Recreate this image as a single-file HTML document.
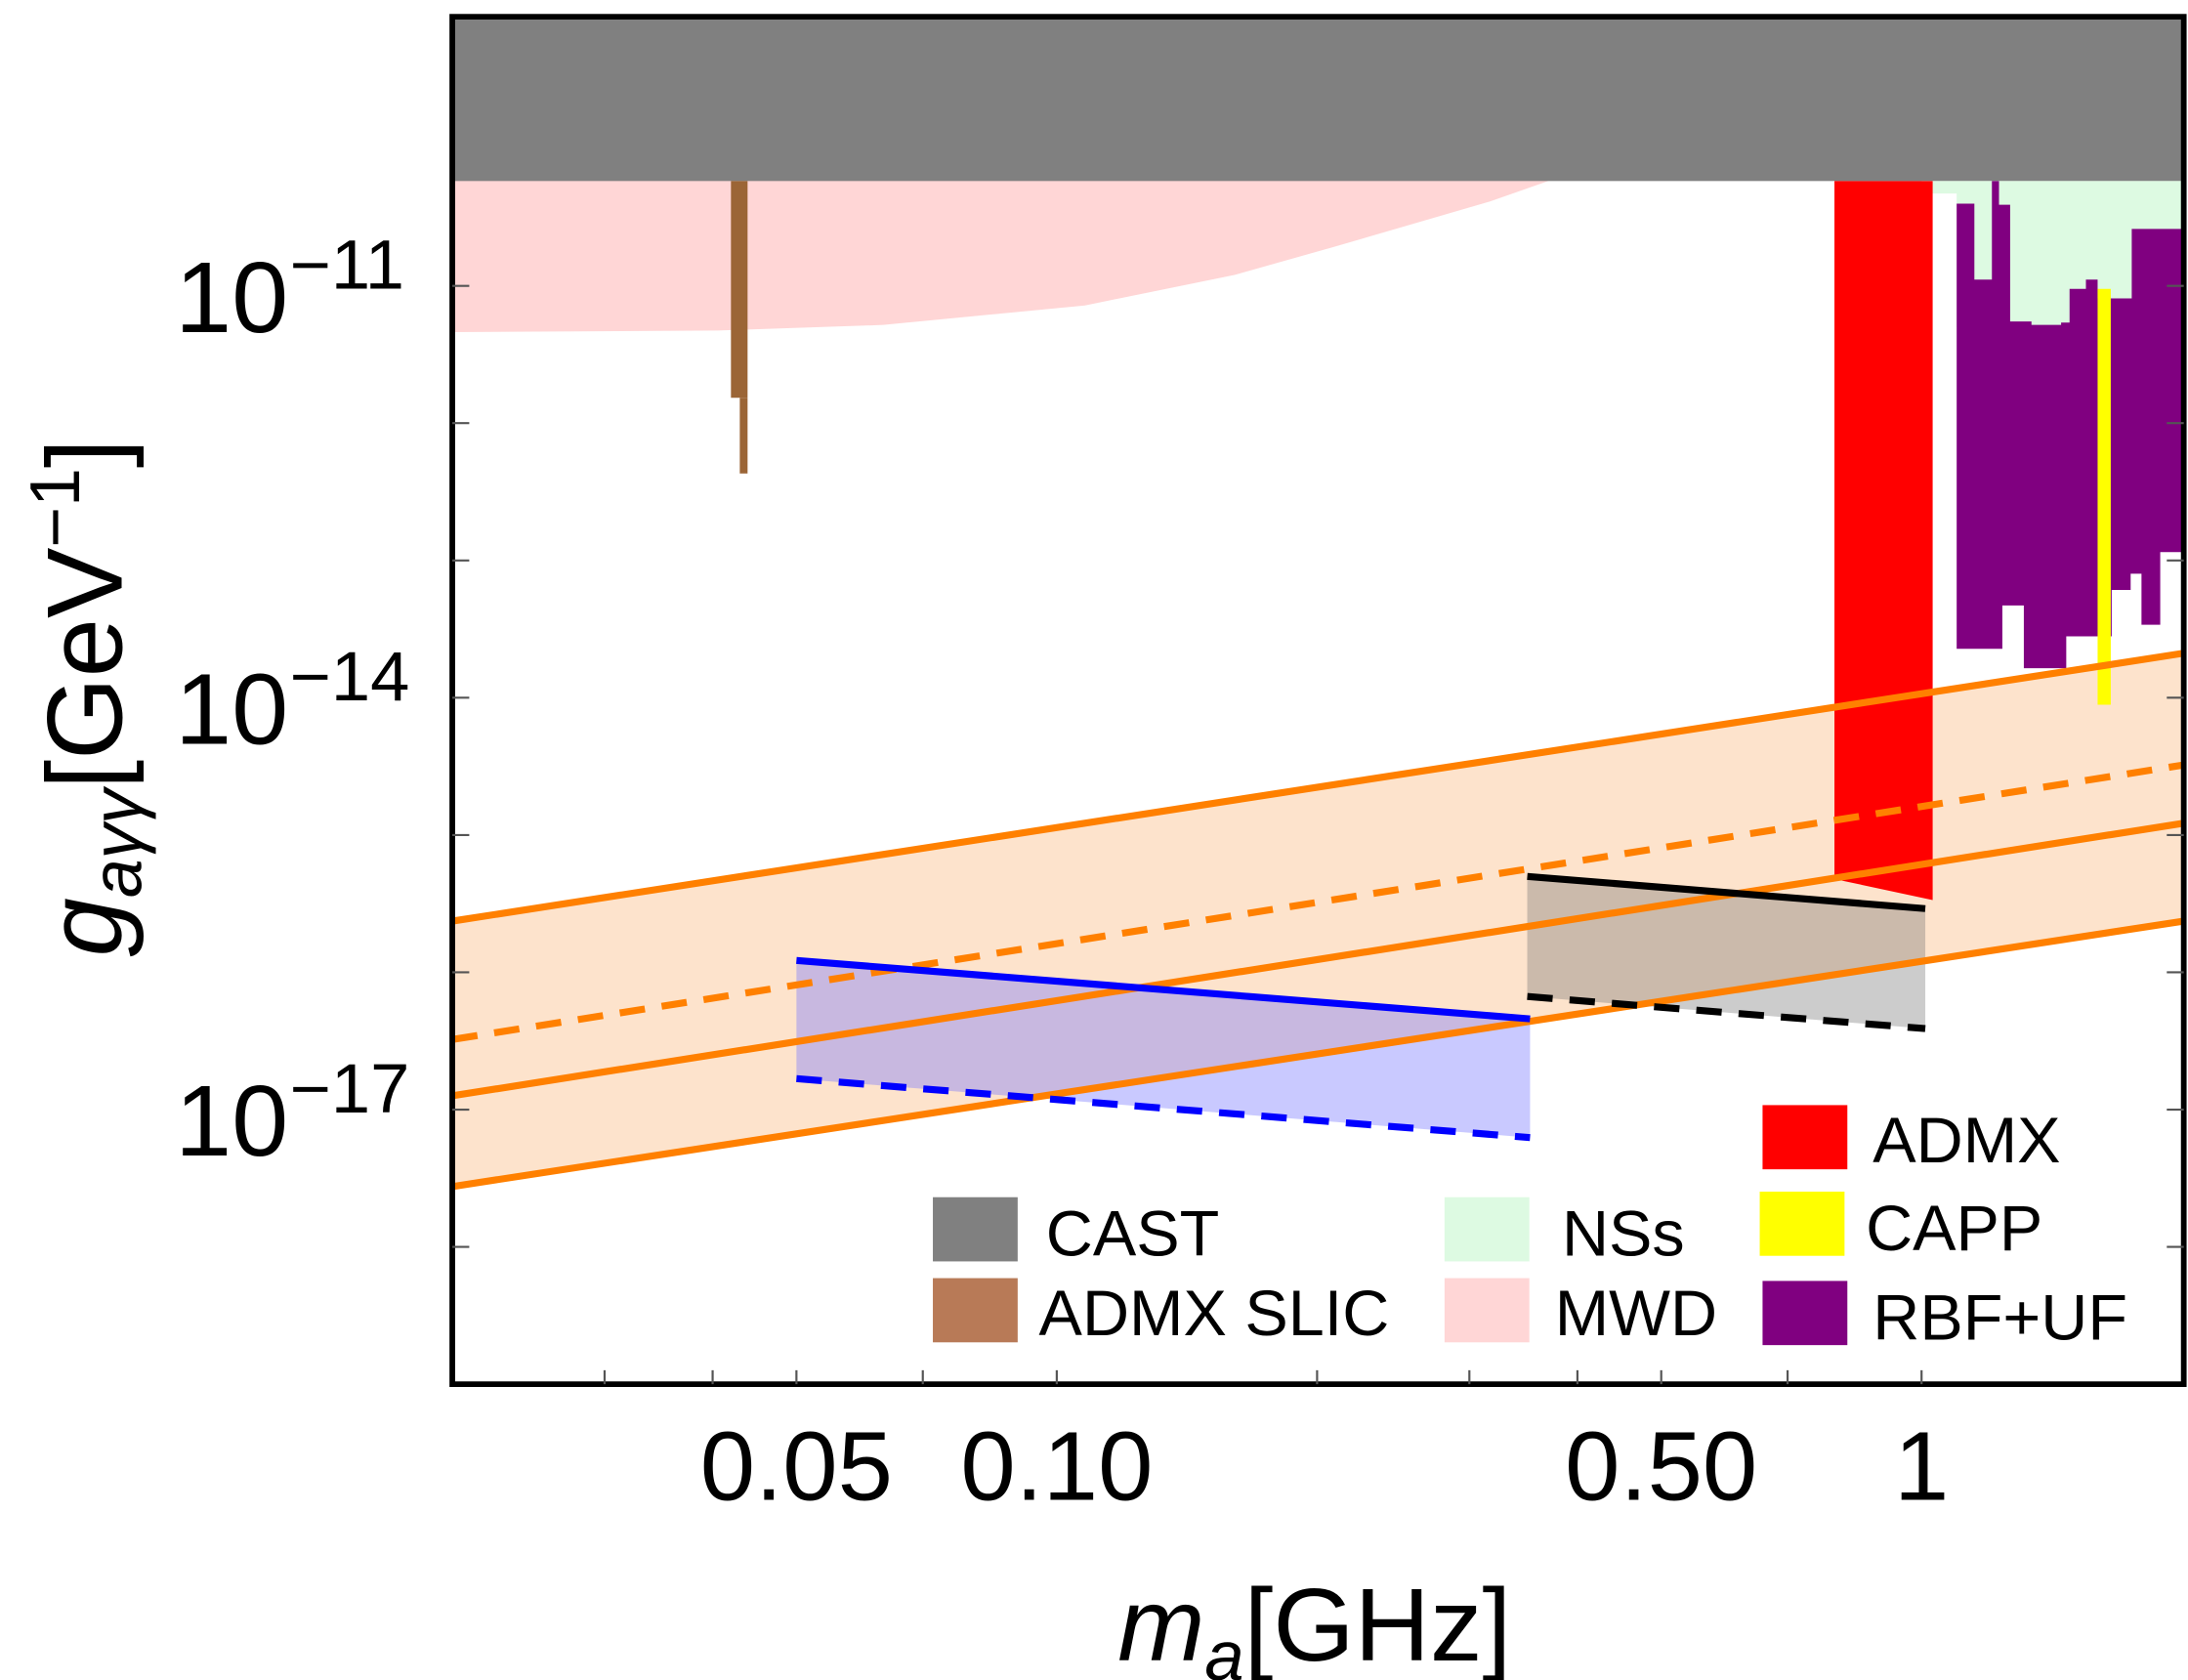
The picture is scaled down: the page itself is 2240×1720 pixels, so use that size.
<!DOCTYPE html>
<html><head><meta charset="utf-8"><style>
html,body{margin:0;padding:0;background:#fff;}
svg{display:block;font-family:"Liberation Sans",sans-serif;}
</style></head><body>
<svg id="chart" width="2240" height="1720" viewBox="0 0 1548 1204" preserveAspectRatio="none" xmlns="http://www.w3.org/2000/svg">
<defs><clipPath id="plotclip"><rect x="320" y="12" width="1225" height="980"/></clipPath></defs>
<g id="plot" clip-path="url(#plotclip)"></g>
<rect x="320" y="12" width="1225" height="980" fill="none" stroke="#000" stroke-width="4"/>
<g id="ticks"></g>
<g id="labels" font-size="70" fill="#000"></g>
<text x="930" y="1190" font-size="74" text-anchor="middle"><tspan font-style="italic">m</tspan><tspan font-style="italic" font-size="50" dy="14">a</tspan><tspan dy="-14">[GHz]</tspan></text>
<text transform="translate(86,500) rotate(-90)" font-size="76" text-anchor="middle"><tspan font-style="italic">g</tspan><tspan font-style="italic" font-size="50" dy="14">aγγ</tspan><tspan dy="-14">[GeV</tspan><tspan font-size="50" dy="-30">−1</tspan><tspan dy="30">]</tspan></text>
<g id="legend" font-size="46">
<g><rect x="660" y="858" width="60" height="46" fill="#808080"/><text x="740" y="900">CAST</text></g>
<g><rect x="660" y="916" width="60" height="46" fill="#b87a57"/><text x="735" y="957">ADMX SLIC</text></g>
<g><rect x="1022" y="858" width="60" height="46" fill="#ddfae2"/><text x="1105" y="900">NSs</text></g>
<g><rect x="1022" y="916" width="60" height="46" fill="#ffd6d6"/><text x="1100" y="957">MWD</text></g>
<g><rect x="1247" y="792" width="60" height="46" fill="#ff0000"/><text x="1325" y="833">ADMX</text></g>
<g><rect x="1245" y="854" width="60" height="46" fill="#ffff00"/><text x="1320" y="896">CAPP</text></g>
<g><rect x="1247" y="918" width="60" height="46" fill="#800080"/><text x="1325" y="960">RBF+UF</text></g>
</g>
</svg>
<script>
var NS="http://www.w3.org/2000/svg";
var xDomain=[0.02,2.01];
var yDomainLog=[-19.0,-9.04];
var xTickValues=[0.05,0.10,0.50,1];
var xTickLabels=["0.05","0.10","0.50","1"];
var xMinorTicks=[0.03,0.04,0.05,0.07,0.1,0.2,0.3,0.4,0.5,0.7,1];
var yTickExps=[-11,-14,-17];
var yMinorExps=[-12,-13,-15,-16,-18];
var castLower=5.8e-11;
var mwdMass=[0.02,0.0406,0.063,0.1078,0.1605,0.2078,0.3155,0.37];
var mwdLower=[4.6e-12,4.73e-12,5.19e-12,7.2e-12,1.2e-11,1.9e-11,4.08e-11,5.8e-11];
var slicWide=[0.0420,0.0439];
var slicNarrow=[0.0430,0.0439];
var slicLower=[1.53e-12,4.3e-13];
var admxRange=[0.793,1.03];
var admxLower=[4.78e-16,3.36e-16];
var nssMass=[1.0,1.098,2.01];
var nssLower=[4.7e-11,5.0e-12];
var rbfTopMass=[1.098,1.151,1.206,1.229,1.266,1.340,1.450,1.483,1.549,1.598,1.750,2.01];
var rbfTop=[3.97e-11,1.11e-11,5.8e-11,3.9e-11,5.5e-12,5.2e-12,5.4e-12,9.5e-12,1.11e-11,8.1e-12,2.6e-11];
var rbfBotMass=[1.098,1.24,1.313,1.47,1.659,1.745,1.796,1.888,2.01];
var rbfBottom=[2.27e-14,4.7e-14,1.64e-14,2.8e-14,6.1e-14,8.0e-14,3.4e-14,1.15e-13];
var cappMass=[1.598,1.655];
var cappRange=[8.9e-15,9.5e-12];
var bandMass=[0.02,2.01];
var bandUpper=[2.36e-16,2.11e-14];
var bandDashed=[3.24e-17,3.24e-15];
var bandMid=[1.26e-17,1.22e-15];
var bandLower=[2.75e-18,2.36e-16];
var blueMass=[0.05,0.3526];
var blueUpper=[1.22e-16,4.58e-17];
var blueLower=[1.68e-17,6.25e-18];
var blackMass=[0.35,1.01];
var blackUpper=[4.99e-16,2.91e-16];
var blackLower=[6.67e-17,3.89e-17];

function X(m){return 320+(Math.log10(m)-Math.log10(xDomain[0]))/(Math.log10(xDomain[1])-Math.log10(xDomain[0]))*1225;}
function Y(g){var l=Math.log10(g);return 992-(l-yDomainLog[0])/(yDomainLog[1]-yDomainLog[0])*980;}
function YL(e){return 992-(e-yDomainLog[0])/(yDomainLog[1]-yDomainLog[0])*980;}
var plot=document.getElementById('plot');
function mk(tag,attrs,parent){var e=document.createElementNS(NS,tag);for(var k in attrs)e.setAttribute(k,attrs[k]);(parent||plot).appendChild(e);return e;}
function pts(xs,ys){return xs.map(function(x,i){return X(x)+','+Y(ys[i]);});}
function poly(xs,top,bot){var a=pts(xs,top),b=pts(xs,bot).reverse();return a.concat(b).join(' ');}
function steps(ms,vs){var r=[];for(var i=0;i<vs.length;i++){r.push(X(ms[i])+','+Y(vs[i]));r.push(X(ms[i+1])+','+Y(vs[i]));}return r;}
function rectPts(x0,x1,g0,g1){return [X(x0)+','+Y(g0),X(x1)+','+Y(g0),X(x1)+','+Y(g1),X(x0)+','+Y(g1)].join(' ');}
var el;
el=mk('polygon',{points:poly(bandMass,bandUpper,bandLower),fill:'#fde3cc'});


var mwdTop=mwdMass.map(function(){return 1e-9;});
el=mk('polygon',{points:poly(mwdMass,mwdTop,mwdLower),fill:'#ffd6d6'});


el=mk('rect',{x:320,y:0,width:1230,height:Y(castLower),fill:'#808080'});


el=mk('polygon',{points:rectPts(slicWide[0],slicWide[1],castLower,slicLower[0]),fill:'#9b6536'});


el=mk('polygon',{points:rectPts(slicNarrow[0],slicNarrow[1],slicLower[0],slicLower[1]),fill:'#9b6536'});


var np=[X(nssMass[0])+','+Y(castLower),X(nssMass[2])+','+Y(castLower)].concat(steps(nssMass,nssLower).reverse());
el=mk('polygon',{points:np.join(' '),fill:'#ddfae2'});


var rp=steps(rbfTopMass,rbfTop).concat(steps(rbfBotMass,rbfBottom).reverse());
el=mk('polygon',{points:rp.join(' '),fill:'#800080'});


el=mk('polygon',{points:rectPts(cappMass[0],cappMass[1],cappRange[1],cappRange[0]),fill:'#ffff00'});


el=mk('polygon',{points:[X(admxRange[0])+','+Y(castLower),X(admxRange[1])+','+Y(castLower),X(admxRange[1])+','+Y(admxLower[1]),X(admxRange[0])+','+Y(admxLower[0])].join(' '),fill:'#ff0000'});


el=mk('polygon',{points:poly(blueMass,blueUpper,blueLower),fill:'rgba(120,120,255,0.4)'});


el=mk('polygon',{points:poly(blackMass,blackUpper,blackLower),fill:'rgba(110,110,110,0.35)'});


function line(xs,ys,color,dash,name){var e=mk('polyline',{points:pts(xs,ys).join(' '),fill:'none',stroke:color,'stroke-width':5});if(dash)e.setAttribute('stroke-dasharray','18,12');return e;}
line(bandMass,bandUpper,'#ff8000',false,'orange-upper-line');
line(bandMass,bandDashed,'#ff8000',true,'orange-dashed-line');
line(bandMass,bandMid,'#ff8000',false,'orange-middle-line');
line(bandMass,bandLower,'#ff8000',false,'orange-lower-line');
line(blueMass,blueUpper,'#0000ff',false,'blue-upper-line');
line(blueMass,blueLower,'#0000ff',true,'blue-lower-dashed-line');
line(blackMass,blackUpper,'#000',false,'black-upper-line');
line(blackMass,blackLower,'#000',true,'black-lower-dashed-line');
var tg=document.getElementById('ticks');
xMinorTicks.forEach(function(m){var t=mk('line',{x1:X(m),x2:X(m),y1:992,y2:982,stroke:'#555','stroke-width':1.5},tg);});
yTickExps.concat(yMinorExps).forEach(function(e){var y=YL(e);var t=mk('line',{x1:320,x2:332,y1:y,y2:y,stroke:'#555','stroke-width':1.5},tg);var t2=mk('line',{x1:1533,x2:1545,y1:y,y2:y,stroke:'#555','stroke-width':1.5},tg);});
var lg=document.getElementById('labels');
xTickValues.forEach(function(v,i){var t=mk('text',{x:X(v),y:1075,'text-anchor':'middle'},lg);t.textContent=xTickLabels[i];});
yTickExps.forEach(function(e){var t=mk('text',{x:204,y:YL(e)+33,'text-anchor':'end','font-size':72},lg);t.textContent='10';var s=mk('text',{x:205,y:YL(e)+2,'font-size':50},lg);s.textContent='−'+(-e);});
</script>
</body></html>
